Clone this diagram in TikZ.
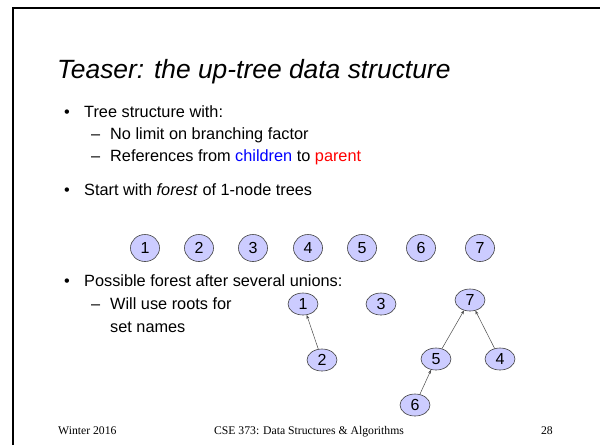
\documentclass[tikz,border=0pt]{standalone}
\usepackage{fontspec}
\setmainfont{Liberation Sans}
\newfontfamily\footfont{Liberation Serif}
\usetikzlibrary{arrows.meta,shapes.geometric}
\definecolor{nodefill}{RGB}{204,204,255}
\definecolor{kidblue}{RGB}{0,0,255}
\definecolor{parred}{RGB}{255,0,0}
\begin{document}
\begin{tikzpicture}[x=1pt,y=-1pt,
  txt/.style={anchor=base west,inner sep=0pt,font=\fontsize{16.3}{19}\selectfont},
  ttl/.style={anchor=base west,inner sep=0pt,font=\itshape\fontsize{26.4}{30}\selectfont},
  foot/.style={inner sep=0pt,font=\footfont\fontsize{11.7}{13}\selectfont},
  nd/.style={ellipse,draw=black!75,fill=nodefill,line width=0.6pt,minimum width=29pt,minimum height=27pt,inner sep=0pt,font=\fontsize{16}{18}\selectfont},
  tn/.style={nd,minimum width=30pt,minimum height=22pt},
  up/.style={-{Stealth[length=4pt,width=3pt]},draw=black!70,line width=0.5pt}]
\useasboundingbox (0,0) rectangle (600,445);
\fill[white] (0,0) rectangle (600,445);
% frame
\draw[line width=2.6pt] (13,445) -- (13,8) -- (600,8);
% title
\node[ttl] (title) at (57,78) {Teaser: the up-tree data structure};
% bullets
\node[txt] (b1) at (64,117) {•};
\node[txt] (t1) at (84,117) {Tree structure with:};
\node[txt] (d1) at (91,139) {–};
\node[txt] (t2) at (110,139) {No limit on branching factor};
\node[txt] (d2) at (91,161) {–};
\node[txt] (t3) at (110,161) {References from \textcolor{kidblue}{children} to \textcolor{parred}{parent}};
\node[txt] (b2) at (64,195) {•};
\node[txt] (t4) at (84,195) {Start with \textit{forest} of 1-node trees};
% row of nodes
\node[nd] (r1) at (145,248) {1};
\node[nd] (r2) at (199,248) {2};
\node[nd] (r3) at (253,248) {3};
\node[nd] (r4) at (308,248) {4};
\node[nd] (r5) at (362,248) {5};
\node[nd] (r6) at (421,248) {6};
\node[nd] (r7) at (480,248) {7};
\node[txt] (b3) at (64,286) {•};
\node[txt] (t5) at (84,286) {Possible forest after several unions:};
\node[txt] (d3) at (91,309) {–};
\node[txt] (t6) at (110,309) {Will use roots for};
\node[txt] (t7) at (110,332) {set names};
% up-trees
\node[tn] (n1) at (303,304) {1};
\node[tn] (n3) at (381,304) {3};
\node[tn] (n7) at (470,300) {7};
\node[tn] (n2) at (322,360) {2};
\node[tn] (n5) at (436,359) {5};
\node[tn] (n4) at (500,359) {4};
\node[tn] (n6) at (415,405) {6};
\draw[up] (n2) -- (n1);
\draw[up] (n5) -- (n7);
\draw[up] (n4) -- (n7);
\draw[up] (n6) -- (n5);
% footer
\node[foot,anchor=base west] (f1) at (58,434) {Winter 2016};
\node[foot,anchor=base] (f2) at (309,434) {CSE 373: Data Structures \& Algorithms};
\node[foot,anchor=base east] (f3) at (553,434) {28};
\end{tikzpicture}
\end{document}
